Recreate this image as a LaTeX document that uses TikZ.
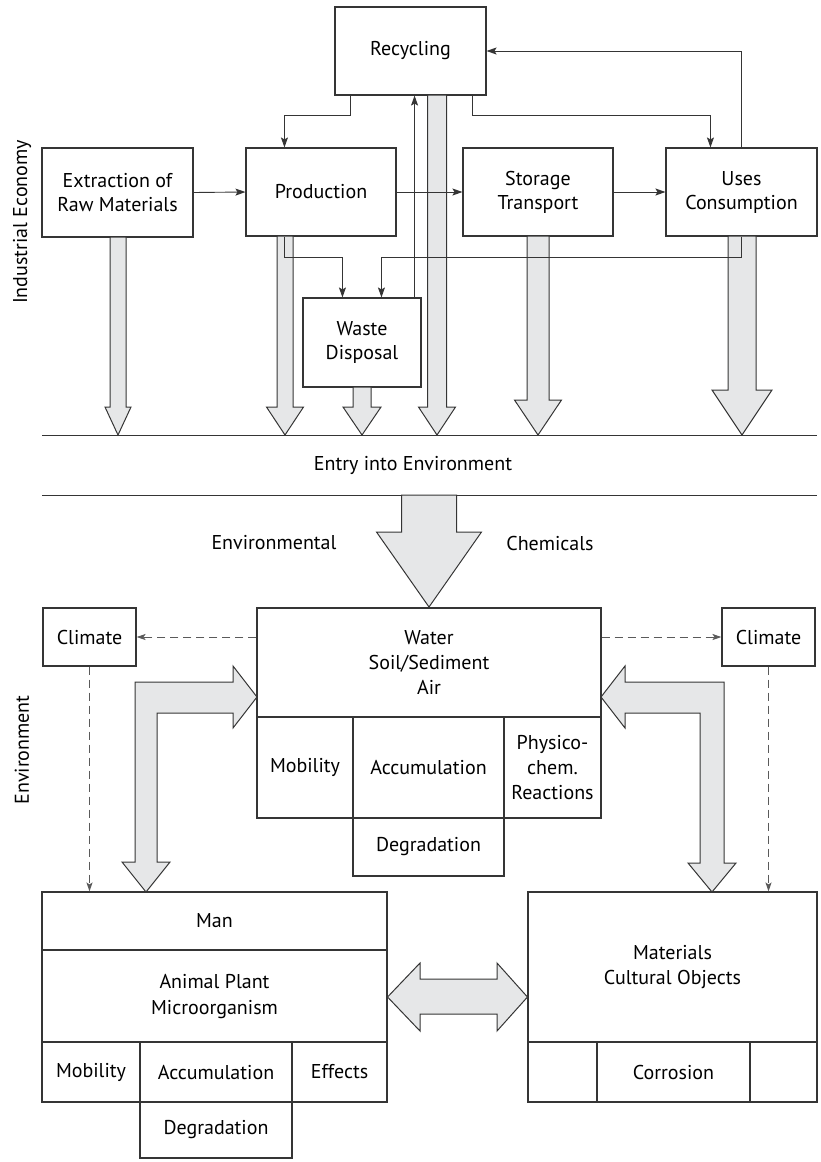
\documentclass[tikz,border=0pt]{standalone}
\usepackage{fontspec}
\setmainfont{PT Sans}
\usetikzlibrary{arrows.meta,calc}
\definecolor{ln}{HTML}{353535}
\definecolor{gfill}{HTML}{E6E7E8}
\definecolor{dsh}{HTML}{5A5A5A}
\newcommand\wdown[6]{% xc, halfshaft, ytop, yhead, halfhead, ytip
  \draw[wide] (#1-#2,#3) -- (#1-#2,#4) -- (#1-#5,#4) -- (#1,#6) -- (#1+#5,#4) -- (#1+#2,#4) -- (#1+#2,#3) -- cycle;}
\tikzset{
  box/.style={draw=ln, line width=1.1pt, inner sep=0pt, align=center, text=black,
    font=\fontsize{20}{24}\selectfont},
  lbl/.style={inner sep=0pt, align=center, font=\fontsize{20}{24}\selectfont},
  conn/.style={draw=ln, line width=0.9pt, -{Stealth[length=10pt,width=7pt,inset=2pt]}},
  dashconn/.style={draw=dsh, line width=1pt, dash pattern=on 8pt off 5pt,
    -{Stealth[length=9pt,width=6pt,inset=2pt]}},
  wide/.style={draw=ln, line width=1pt, fill=gfill, line join=miter},
  rule/.style={draw=ln, line width=1pt},
}
\begin{document}
\begin{tikzpicture}[x=1pt,y=-1pt]
\useasboundingbox (0,0) rectangle (821,1162);

% ---------- Industrial economy ----------
\node[box, minimum width=151pt, minimum height=88pt] (rec) at (410.5,51) {Recycling};
\node[box, minimum width=151pt, minimum height=89pt] (ext) at (117.5,192.5) {Extraction of\\Raw Materials};
\node[box, minimum width=150pt, minimum height=88pt] (prod) at (321,192) {Production};
\node[box, minimum width=150pt, minimum height=88pt] (stor) at (538,192) {Storage\\Transport};
\node[box, minimum width=151pt, minimum height=88pt] (uses) at (741.5,192) {Uses\\Consumption};
\node[box, minimum width=118pt, minimum height=89pt] (waste) at (362,342.5) {Waste\\Disposal};

\node[lbl, rotate=90] (ind) at (22,222) {Industrial Economy};
\node[lbl, rotate=90] (envside) at (22,750) {Environment};

% rules
\coordinate (b1) at (42,435); \coordinate (b2) at (817,435);
\coordinate (c1) at (42,495); \coordinate (c2) at (817,495);
\draw[rule] (b1) -- (b2);
\draw[rule] (c1) -- (c2);
\node[lbl] (entry) at (413,465) {Entry into Environment};

% wide down arrows
\wdown{118}{8}{237}{407}{13}{435}
\wdown{285}{8}{236}{407}{18.5}{435}
\wdown{362}{9}{387}{407}{19}{435}
\wdown{437}{9.5}{95}{407}{18.5}{435}
\wdown{538}{11}{236}{400}{23.5}{435}
\wdown{742}{14}{236}{390}{30}{435}

% thin connectors
\draw[conn] (uses.north) |- (rec.east);
\draw[conn] ($(rec.south west)+(16,0)$) -- ++(0,20) -| ($(prod.north west)+(39,0)$);
\draw[conn] ($(rec.south east)+(-14,0)$) -- ++(0,20) -| ($(uses.north west)+(45,0)$);
\draw[conn] (ext.east) -- (prod.west);
\draw[conn] (prod.east) -- (stor.west);
\draw[conn] (stor.east) -- (uses.west);
\coordinate (w1) at ($(waste.north east)+(-7,0)$);
\draw[conn] (w1) -- (w1 |- rec.south);
\draw[conn] ($(prod.south west)+(39,0)$) -- ++(0,21) -| ($(waste.north west)+(40,0)$);
\draw[conn] (uses.south) -- ++(0,21) -| ($(waste.north west)+(79,0)$);

% ---------- Environment ----------
\wdown{429}{27.5}{495}{532}{52.5}{607}
\node[lbl] (envl) at (274,543) {Environmental};
\node[lbl] (chem) at (550,543) {Chemicals};

\node[box, minimum width=344pt, minimum height=109pt, font=\fontsize{20}{25}\selectfont] (wat) at (429,662.5) {Water\\Soil/Sediment\\Air};
\node[box, minimum width=96pt, minimum height=101pt] (wmob) at (305,767.5) {Mobility};
\node[box, minimum width=151pt, minimum height=101pt] (wacc) at (428.5,767.5) {Accumulation};
\node[box, minimum width=97pt, minimum height=101pt, font=\fontsize{20}{25}\selectfont] (wphy) at (552.5,767.5) {Physico-\\chem.\\Reactions};
\node[box, minimum width=151pt, minimum height=58pt] (wdeg) at (428.5,847) {Degradation};

\node[box, minimum width=93pt, minimum height=58pt] (clL) at (89.5,637) {Climate};
\node[box, minimum width=93pt, minimum height=58pt] (clR) at (768.5,637) {Climate};

\draw[dashconn] (wat.west |- clL.east) -- (clL.east);
\draw[dashconn] (wat.east |- clR.west) -- (clR.west);

% L-shaped arrows
\draw[wide] (135,682) -- (233,682) -- (233,666) -- (257,697) -- (233,728) -- (233,713) -- (157,713)
  -- (157,862) -- (170,862) -- (146,892) -- (122,862) -- (135,862) -- cycle;
\draw[wide] (724,682) -- (625,682) -- (625,666) -- (601,697) -- (625,728) -- (625,713) -- (700,713)
  -- (700,863) -- (688,863) -- (712,892) -- (736,863) -- (724,863) -- cycle;

% Man block
\node[box, minimum width=345pt, minimum height=58pt] (man) at (214.5,921) {Man};
\node[box, minimum width=345pt, minimum height=92pt, font=\fontsize{20}{26}\selectfont] (ani) at (214.5,996) {Animal Plant\\Microorganism};
\node[box, minimum width=98pt, minimum height=60pt] (mmob) at (91,1072) {Mobility};
\node[box, minimum width=152pt, minimum height=60pt] (macc) at (216,1072) {Accumulation};
\node[box, minimum width=95pt, minimum height=60pt] (meff) at (339.5,1072) {Effects};
\node[box, minimum width=152pt, minimum height=56pt] (mdeg) at (216,1130) {Degradation};

% Materials block
\node[box, minimum width=289pt, minimum height=150pt, font=\fontsize{20}{25}\selectfont] (mat) at (672.5,967) {Materials\\Cultural Objects};
\node[box, minimum width=69pt, minimum height=60pt] (ml) at (562.5,1072) {};
\node[box, minimum width=153pt, minimum height=60pt] (cor) at (673.5,1072) {Corrosion};
\node[box, minimum width=67pt, minimum height=60pt] (mr) at (783.5,1072) {};

\draw[dashconn] (clL.south) -- (clL.south |- man.north);
\draw[dashconn] (clR.south) -- (clR.south |- mat.north);

% double arrow
\draw[wide] (man.east |- 0,997) -- (420,963) -- (420,979) -- (497,979) -- (497,963) -- (mat.west |- 0,997)
  -- (497,1031) -- (497,1014) -- (420,1014) -- (420,1031) -- cycle;
\end{tikzpicture}
\end{document}
